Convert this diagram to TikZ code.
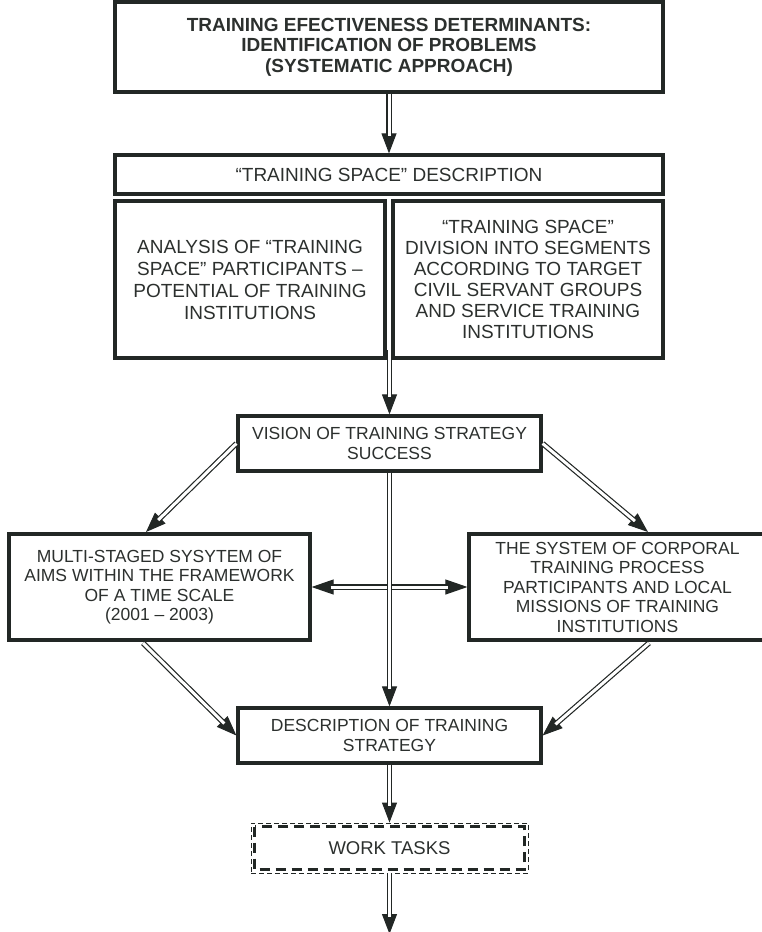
\documentclass[tikz,border=0pt]{standalone}
\usepackage{fontspec}
\setmainfont{Liberation Sans}
\usetikzlibrary{arrows.meta,calc}
\definecolor{ink}{HTML}{222725}
\definecolor{txt}{HTML}{2C302E}
% a connector: a thin line carrying a solid tip, overlaid by a shortened double shaft
\newcommand\link[2]{%
  \draw[tipline] (#1) -- (#2);
  \draw[shaft, shorten >=17pt] (#1) -- (#2);}
\newcommand\twowaylink[2]{%
  \draw[tipline, {Triangle[length=22pt,width=15pt]}-{Triangle[length=22pt,width=15pt]}] (#1) -- (#2);
  \draw[shaft, shorten >=19pt, shorten <=19pt] (#1) -- (#2);}
\begin{document}
\begin{tikzpicture}[x=1pt,y=-1pt,
  box/.style={draw=ink, line width=3.2pt, fill=white, align=center, inner sep=0pt, text=txt},
  tipline/.style={draw=ink, line width=1pt, -{Triangle[length=20pt,width=15pt]}},
  shaft/.style={draw=ink, line width=1.2pt, double=white, double distance=3pt},
  headfont/.style={font=\fontsize{19}{20.5}\selectfont\bfseries},
  bigfont/.style={font=\fontsize{19}{22}\selectfont},
  midfont/.style={font=\fontsize{17.5}{19.5}\selectfont},
]
\useasboundingbox (0,0) rectangle (762,932);

% boxes
\node[box, headfont, minimum width=548pt, minimum height=90pt] (top) at (389,47)
  {TRAINING EFECTIVENESS DETERMINANTS:\\IDENTIFICATION OF PROBLEMS\\(SYSTEMATIC APPROACH)};
\node[box, font=\fontsize{19}{20}\selectfont, minimum width=548pt, minimum height=39pt] (space) at (389,174.5)
  {“TRAINING SPACE” DESCRIPTION};
\node[box, bigfont, minimum width=270pt, minimum height=157pt] (analysis) at (250,279.5)
  {ANALYSIS OF “TRAINING\\SPACE” PARTICIPANTS –\\POTENTIAL OF TRAINING\\INSTITUTIONS};
\node[box, font=\fontsize{19}{21}\selectfont, minimum width=270pt, minimum height=157pt] (division) at (528,279.5)
  {“TRAINING SPACE”\\DIVISION INTO SEGMENTS\\ACCORDING TO TARGET\\CIVIL SERVANT GROUPS\\AND SERVICE TRAINING\\INSTITUTIONS};
\node[box, midfont, minimum width=303pt, minimum height=55pt] (vision) at (389.5,443.5)
  {VISION OF TRAINING STRATEGY\\SUCCESS};
\node[box, midfont, minimum width=301pt, minimum height=106pt] (aims) at (159.5,587)
  {MULTI-STAGED SYSYTEM OF\\AIMS WITHIN THE FRAMEWORK\\OF A TIME SCALE\\(2001 – 2003)};
\node[box, midfont, minimum width=297pt, minimum height=106pt] (corporal) at (617.5,587)
  {THE SYSTEM OF CORPORAL\\TRAINING PROCESS\\PARTICIPANTS AND LOCAL\\MISSIONS OF TRAINING\\INSTITUTIONS};
\node[box, midfont, minimum width=303pt, minimum height=55pt] (strategy) at (389.5,735.5)
  {DESCRIPTION OF TRAINING\\STRATEGY};
\node[box, draw=ink, line width=0.9pt, dash pattern=on 5pt off 3pt,
  font=\fontsize{18.5}{20}\selectfont, minimum width=277pt, minimum height=50pt] (work) at (389.5,848)
  {WORK TASKS};
\draw[ink, line width=3pt, dash pattern=on 10pt off 6pt]
  ($(work.north west)+(4,4)$) rectangle ($(work.south east)+(-4,-4)$);

% free ends and side points of the connectors
\coordinate (gap) at (389.5,350);
\coordinate (out) at (389.5,934);
\coordinate (aimsin) at (146,532);
\coordinate (corpin) at (648,532);
\coordinate (aimsout) at (143,643);
\coordinate (corpout) at (649,643);

% connectors
\twowaylink{aims.east}{corporal.west}
\link{top.south}{space.north}
\link{gap}{vision.north}
\link{vision.west}{aimsin}
\link{vision.east}{corpin}
\link{vision.south}{strategy.north}
\link{aimsout}{strategy.west}
\link{corpout}{strategy.east}
\link{strategy.south}{work.north}
\link{work.south}{out}
\end{tikzpicture}
\end{document}
